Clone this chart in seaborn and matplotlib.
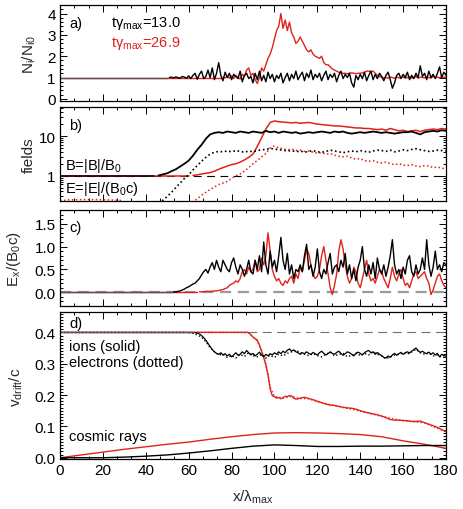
import numpy as np
import matplotlib
matplotlib.use("Agg")
import matplotlib.pyplot as plt
import seaborn as sns
from matplotlib.ticker import MultipleLocator, FixedLocator, FormatStrFormatter, LogLocator, NullFormatter

# ---------------- data ----------------
# panel a: N_i/N_i0
a_black_flat_x = [0, 50]
a_black_flat = [1.0, 1.0]
a_black = [1.0, 1.02, 0.98, 1.03, 1.0, 0.97, 1.05, 1.02, 0.96,
           1.08, 0.95, 1.1, 1.2, 0.92, 1.15, 1.3, 0.95, 1.05, 1.35,
           1.0, 1.45, 0.9, 1.2, 1.7, 1.1, 0.85, 1.25, 1.0, 1.2,
           0.9, 1.15, 1.05, 0.95, 1.3, 0.8, 1.1, 1.2, 0.95, 1.05,
           0.75, 1.2, 0.9, 1.3, 0.85, 1.1, 0.8, 1.25, 0.95, 1.15,
           0.8, 1.1, 0.95, 1.2, 0.75, 1.0, 1.2, 0.85, 1.15, 0.95,
           1.3, 0.9, 1.1, 1.25, 0.85, 1.2, 1.0, 1.35, 0.9, 1.15,
           1.0, 1.2, 0.85, 1.1, 1.3, 0.9, 1.15, 1.0, 1.2, 0.8,
           1.1, 1.3, 0.95, 1.15, 1.0, 1.2, 0.75, 0.55, 1.1, 0.9,
           1.15, 0.95, 1.25, 0.85, 1.1, 1.3, 0.9, 1.15, 0.95, 1.2,
           1.05, 0.85, 1.1, 1.25, 0.9, 0.5, 0.75, 1.1, 1.2, 0.95,
           1.15, 1.0, 1.25, 0.9, 1.1, 0.95, 1.2, 1.0, 1.55, 1.05,
           1.2, 0.9, 1.3, 1.0, 1.15, 0.95, 1.2, 1.5, 1.0, 1.25,
           1.1]
a_black_x0 = 51
a_red_flat_x = [0, 75]
a_red_flat = [1.0, 1.0]
a_red = [1.02, 0.98, 1.05, 0.97, 1.08, 0.95, 1.1, 1.0, 0.93, 1.15, 1.05, 1.35, 1.45, 1.1,
         1.2, 0.9, 0.72, 1.0, 1.45, 1.3, 1.6, 1.9, 2.1, 2.4,
         2.8, 3.2, 3.4, 4.0, 3.3, 3.7, 3.2, 3.6, 3.1, 2.9,
         2.6, 2.7, 2.9, 2.7, 2.5, 2.3, 2.2, 2.3, 2.1, 2.0,
         1.95, 1.9, 2.0, 1.7, 1.6, 1.6, 1.5, 1.4, 1.35, 1.3,
         1.25, 1.22, 1.2, 1.2, 1.18, 1.2, 1.22, 1.2, 1.18, 1.2,
         1.2, 1.22, 1.25, 1.3, 1.3, 1.28, 1.3, 1.2, 1.1, 1.05,
         1.02, 0.98, 1.0, 0.97, 1.02, 1.0, 0.96, 1.03, 0.98, 1.0,
         1.02, 0.97, 1.0, 1.03, 0.98, 1.0, 1.05, 0.97, 1.02, 1.0,
         0.98, 1.03, 1.0, 0.97, 1.05, 1.0, 1.02, 0.98, 1.05, 1.0, 1.03]
a_red_x0 = 76

# panel b: fields (step 2 in x)
b_B_black_flat_x = [0, 44]
b_B_black_flat = [1.0, 1.0]
b_B_black = [1.02, 1.08, 1.15, 1.3, 1.45, 1.7, 2.0, 2.4, 3.2, 4.5, 6.0, 8.5, 11, 12, 12.5, 12, 13,
             12.5, 12, 13, 12.5, 12, 13, 12.5, 12, 13.5, 12.5, 13, 12, 13, 12.5, 12, 12.5,
             11.5, 12, 12.5, 12, 12.5, 13, 12.5, 12, 13, 12.5, 13, 12, 11.5, 12, 12.5, 12,
             12.5, 13, 12.5, 12, 12.5, 12, 11.5, 12, 12.5, 12.5, 13, 12, 11, 12.5, 13, 13.5,
             13, 14, 13.5]
b_B_black_x0 = 46
b_B_red_flat_x = [0, 60]
b_B_red_flat = [1.0, 1.0]
b_B_red = [1.02, 1.05, 1.1, 1.15, 1.2, 1.3, 1.45, 1.6, 1.75, 1.9, 2.0, 2.2, 2.5, 2.9, 3.5, 5.5,
           9, 15, 22, 24, 23, 22.5, 22, 21.5, 22, 21, 21.5, 22, 21, 20, 19.5, 19, 18.5, 18,
           18, 17.5, 17, 16.5, 16, 16, 15.5, 15.5, 15, 14.5, 15, 14, 15.5, 14.5, 13.5, 14,
           13, 13.5, 14, 13, 14, 14.5, 15, 14.5, 15.5, 15]
b_B_red_x0 = 62
b_E_black = [0.2, 0.24, 0.3, 0.38, 0.5, 0.65, 0.85, 1.05, 1.4, 1.8, 2.3, 2.9, 3.5, 3.9, 4.1,
             4.0, 4.2, 4.0, 4.3, 4.1, 3.9, 4.2, 4.0, 4.3, 4.5, 4.6, 4.9, 4.7, 4.5, 4.4, 4.2,
             4.3, 4.0, 4.2, 3.9, 4.1, 4.3, 4.0, 3.9, 4.1, 4.4, 4.2, 4.0, 3.8, 4.0, 4.2, 4.0,
             4.3, 4.1, 3.9, 4.2, 4.4, 4.3, 4.1, 4.4, 4.0, 4.2, 4.5, 4.3, 4.6, 4.8, 4.5, 4.3,
             4.1, 4.2, 4.4, 4.3, 4.2]
b_E_black_x0 = 46
b_E_red_left_x = [0, 4, 10, 16, 22, 28, 30, 34, 58]
b_E_red_left = [0.235, 0.245, 0.25, 0.25, 0.245, 0.24, 0.2, 0.15, 0.15]
b_E_red = [0.19, 0.22, 0.26, 0.32, 0.38, 0.45, 0.52, 0.6, 0.65, 0.72, 0.85, 1.0, 1.1, 1.3, 1.6,
           2.0, 2.4, 3.0, 3.6, 5.0, 5.6, 5.0, 4.8, 4.5, 4.7, 4.3, 4.4, 4.1, 4.2, 3.9, 3.7,
           3.8, 3.5, 3.6, 3.3, 3.1, 3.0, 3.1, 2.8, 2.6, 2.7, 2.4, 2.3, 2.4, 2.2, 2.1, 2.2,
           2.0, 1.9, 2.0, 1.85, 1.8, 1.9, 1.75, 1.7, 1.8, 1.75, 1.6, 1.65, 1.55, 1.5]
b_E_red_x0 = 60

# panel c: E_x/(B0 c)
c_black_flat_x = [0, 52]
c_black_flat = [0.0, 0.0]
c_black = [0.01, 0.01, 0.02, 0.03, 0.05, 0.07, 0.1,
           0.12, 0.15, 0.18, 0.2, 0.25, 0.3, 0.38, 0.45, 0.5, 0.42,
           0.55, 0.65, 0.5, 0.7, 0.55, 0.45, 0.7, 0.6, 0.5, 0.45,
           0.65, 0.75, 0.55, 0.4, 0.6, 0.5, 0.35, 0.5, 0.7, 0.45,
           0.4, 0.7, 0.5, 0.8, 0.45, 1.1, 0.6, 0.4, 0.9, 0.55,
           0.7, 0.45, 0.8, 1.2, 0.7, 0.5, 0.85, 0.4, 0.6, 0.3,
           0.5, 0.45, 0.6, 0.45, 0.8, 1.05, 0.5, 0.6, 0.35, 0.55,
           0.95, 0.45, 0.3, 0.5, 0.4, 0.65, 0.85, 0.4, 0.55, 0.6,
           0.45, 0.7, 0.55, 0.85, 0.4, 0.6, 0.3, 0.5, 0.25, 0.55,
           0.7, 1.0, 0.5, 0.35, 0.6, 0.4, 0.65, 0.3, 0.75, 0.5,
           0.4, 0.6, 0.35, 0.55, 0.8, 1.15, 0.6, 0.4, 0.5, 0.3,
           0.55, 0.4, 0.7, 0.8, 0.45, 0.35, 0.6, 0.4, 0.5, 0.75,
           0.5, 1.15, 0.6, 0.35, 0.55, 0.9, 0.5, 0.6, 0.45, 0.65,
           0.6]
c_black_x0 = 53
c_red_flat_x = [0, 64]
c_red_flat = [0.0, 0.0]
c_red = [0.01, 0.01, 0.01, 0.02, 0.02,
         0.02, 0.02, 0.03, 0.03, 0.04, 0.05, 0.06, 0.08, 0.1, 0.15,
         0.18, 0.2, 0.25, 0.22, 0.3, 0.45, 0.5, 0.4, 0.55, 0.45,
         0.5, 0.7, 0.45, 0.5, 0.75, 0.6, 0.8, 1.3, 0.9, 0.5,
         0.35, 0.25, 0.3, 0.2, 0.15, 0.25, 0.2, 0.3, 0.35, 0.2,
         0.4, 0.3, 0.55, 0.45, 0.7, 0.95, 0.85, 0.6, 0.4, 0.3,
         0.35, 0.5, 0.8, 1.0, 0.7, 0.4, 0.1, -0.05, 0.15, 0.4,
         0.9, 1.15, 0.95, 0.6, 0.35, 0.2, 0.3, 0.55, 0.45, 0.2,
         0.1, 0.3, 0.5, 0.7, 0.4, 0.25, 0.3, 0.2, 0.35, 0.5,
         0.45, 0.3, 0.2, 0.1, 0.3, 0.55, 0.35, 0.25, 0.4, 0.5,
         0.3, 0.15, 0.2, 0.1, 0.25, 0.4, 0.45, 0.3, 0.35, 0.4,
         0.45, 0.3, 0.2, -0.05, 0.05, 0.2, 0.35, 0.4, 0.25, 0.15,
         0.1]
c_red_x0 = 65

# panel d: drift velocities
d_ion_black_flat_x = [0, 62]
d_ion_black_flat = [0.4, 0.4]
d_ion_black = [0.399, 0.398, 0.395, 0.39, 0.383, 0.375, 0.365,
               0.355, 0.345, 0.338, 0.333, 0.33, 0.335, 0.328, 0.332, 0.325, 0.33,
               0.322, 0.328, 0.335, 0.327, 0.33, 0.338, 0.332, 0.342, 0.335, 0.328,
               0.333, 0.325, 0.33, 0.337, 0.328, 0.322, 0.33, 0.325, 0.332, 0.328,
               0.335, 0.33, 0.338, 0.332, 0.34, 0.335, 0.343, 0.347, 0.34, 0.344,
               0.338, 0.335, 0.33, 0.335, 0.332, 0.338, 0.333, 0.33, 0.336, 0.332,
               0.328, 0.335, 0.34, 0.333, 0.328, 0.332, 0.338, 0.333, 0.33, 0.336,
               0.34, 0.333, 0.327, 0.332, 0.338, 0.335, 0.33, 0.325, 0.332, 0.337,
               0.333, 0.328, 0.335, 0.34, 0.342, 0.335, 0.338, 0.33, 0.336, 0.33,
               0.326, 0.32, 0.318, 0.325, 0.32, 0.328, 0.333, 0.327, 0.332, 0.336,
               0.33, 0.335, 0.338, 0.334, 0.34, 0.345, 0.35, 0.342, 0.336, 0.34,
               0.335, 0.332, 0.337, 0.33, 0.335, 0.328, 0.333, 0.322, 0.33, 0.326,
               0.324]
d_ion_black_x0 = 63
d_ele_black_flat_x = [0, 58]
d_ele_black_flat = [0.4, 0.4]
d_ele_black = [0.399, 0.397, 0.392, 0.385, 0.37, 0.352, 0.338, 0.328, 0.33, 0.32,
               0.326, 0.318, 0.33, 0.323, 0.335, 0.326, 0.322, 0.33, 0.318, 0.327,
               0.32, 0.33, 0.325, 0.333, 0.338, 0.343, 0.336, 0.33, 0.326, 0.332,
               0.326, 0.322, 0.33, 0.337, 0.325, 0.33, 0.333, 0.322, 0.327, 0.334,
               0.326, 0.333, 0.328, 0.338, 0.33, 0.325, 0.316, 0.322, 0.328, 0.33,
               0.334, 0.331, 0.338, 0.346, 0.335, 0.33, 0.334, 0.325, 0.328, 0.32,
               0.322]
d_ele_black_x0 = 60
d_ion_red_x = [0, 86, 87, 88, 89, 90, 91, 92, 93, 94, 95, 96, 97, 98, 99, 100, 101, 102,
               103, 104, 105, 106, 107, 108, 109, 110, 111, 112, 113, 114, 115, 116, 117,
               118, 119, 120, 122, 124, 126, 128, 130, 132, 134, 136, 138, 140, 142, 144,
               146, 148, 150, 152, 154, 156, 158, 160, 162, 164, 166, 168, 170, 172, 174,
               176, 178, 180]
d_ion_red = [0.4, 0.4, 0.401, 0.399, 0.392, 0.385, 0.38, 0.375, 0.36, 0.34, 0.32, 0.295,
             0.265, 0.22, 0.198, 0.195, 0.19, 0.192, 0.188, 0.192, 0.196, 0.195, 0.198,
             0.197, 0.19, 0.187, 0.188, 0.19, 0.192, 0.193, 0.191, 0.189, 0.187, 0.185,
             0.183, 0.18, 0.176, 0.171, 0.168, 0.167, 0.164, 0.161, 0.159, 0.158, 0.155,
             0.15, 0.146, 0.143, 0.14, 0.137, 0.133, 0.128, 0.122, 0.12, 0.12, 0.119,
             0.118, 0.116, 0.116, 0.117, 0.112, 0.107, 0.102, 0.097, 0.09, 0.083]
d_ele_red_x = [0, 84, 88, 90, 92, 94, 96, 98, 100, 104, 108, 112, 116, 120, 130, 140, 150,
               160, 170, 180]
d_ele_red = [0.4, 0.4, 0.398, 0.386, 0.372, 0.342, 0.3, 0.225, 0.196, 0.19, 0.196, 0.189,
             0.188, 0.179, 0.163, 0.149, 0.132, 0.118, 0.111, 0.082]
d_cr_x = [0, 10, 20, 30, 40, 50, 60, 70, 80, 90, 100, 110, 120, 130, 140, 150, 160, 170, 180]
d_cr_red = [0.0, 0.009, 0.018, 0.027, 0.035, 0.043, 0.05, 0.059, 0.067, 0.074, 0.079, 0.08,
            0.079, 0.077, 0.074, 0.067, 0.054, 0.043, 0.03]
d_cr_black = [0.0, 0.0, 0.0, 0.002, 0.005, 0.009, 0.015, 0.022, 0.03, 0.037, 0.041, 0.039,
              0.036, 0.036, 0.037, 0.037, 0.038, 0.039, 0.039]

x_ticks = [0, 20, 40, 60, 80, 100, 120, 140, 160, 180]

# ---------------- style ----------------
sns.set_theme(style="ticks")
plt.rcParams['font.family'] = ['Liberation Sans', 'DejaVu Sans']
plt.rcParams['mathtext.default'] = 'regular'
plt.rcParams['axes.linewidth'] = 0.9
plt.rcParams['axes.edgecolor'] = 'black'

RED = '#e0221c'
BLK = 'black'
W, H = 463, 510
fig = plt.figure(figsize=(W / 100, H / 100), dpi=100)


def add_ax(top, bottom):
    l, r = 60, 446
    return fig.add_axes([l / W, 1 - bottom / H, (r - l) / W, (bottom - top) / H])


def style(ax, ylim, minor=None):
    ax.set_xlim(0, 180)
    ax.set_ylim(*ylim)
    ax.xaxis.set_major_locator(FixedLocator(x_ticks))
    ax.xaxis.set_minor_locator(MultipleLocator(20 / 3))
    if minor is not None:
        ax.yaxis.set_minor_locator(MultipleLocator(minor))
    ax.tick_params(which='both', direction='in', top=True, right=True, colors='black',
                   labelsize=11, width=0.7, pad=3)
    ax.tick_params(which='major', length=5)
    ax.tick_params(which='minor', length=2.5)
    ax.set_xlabel('')
    ax.set_ylabel('')
    for s in ax.spines.values():
        s.set_color('black')


def line(ax, x, y, color, lw=1.0, ls='-'):
    sns.lineplot(x=np.asarray(x, float), y=np.asarray(y, float), ax=ax, color=color,
                 linewidth=lw, linestyle=ls, estimator=None, sort=False)


def seg(x0, vals, step=1):
    return np.arange(len(vals)) * step + x0


def ftext(x, y, s, color='black', size=10.5, **kw):
    fig.text(x / W, 1 - y / H, s, color=color, fontsize=size, va='center', ha='left', **kw)


dot = (0, (1, 1.6))

# ---- panel a ----
ax1 = add_ax(6, 102)
line(ax1, a_red_flat_x, a_red_flat, RED)
line(ax1, seg(a_red_x0, a_red), a_red, RED)
line(ax1, a_black_flat_x, a_black_flat, '#555555')
line(ax1, seg(a_black_x0, a_black), a_black, BLK)
style(ax1, (-0.1, 4.4), minor=0.2)
ax1.yaxis.set_major_locator(FixedLocator([0, 1, 2, 3, 4]))
ax1.set_xticklabels([])

# ---- panel b ----
ax2 = add_ax(108, 202)
ax2.set_yscale('log')
ax2.axhline(1.0, color='black', lw=0.8, dashes=(7, 5))
line(ax2, b_B_red_flat_x, b_B_red_flat, RED, lw=1.1)
line(ax2, seg(b_B_red_x0, b_B_red, 2), b_B_red, RED, lw=1.1)
line(ax2, b_E_red_left_x, b_E_red_left, RED, lw=1.1, ls=dot)
line(ax2, seg(b_E_red_x0, b_E_red, 2), b_E_red, RED, lw=1.1, ls=dot)
line(ax2, b_B_black_flat_x, b_B_black_flat, BLK, lw=1.1)
line(ax2, seg(b_B_black_x0, b_B_black, 2), b_B_black, BLK, lw=1.3)
line(ax2, seg(b_E_black_x0, b_E_black, 2), b_E_black, BLK, lw=1.2, ls=dot)
style(ax2, (0.23, 54))
ax2.yaxis.set_major_locator(FixedLocator([1, 10]))
ax2.yaxis.set_major_formatter(FormatStrFormatter('%g'))
ax2.yaxis.set_minor_locator(LogLocator(base=10, subs=np.arange(2, 10)))
ax2.yaxis.set_minor_formatter(NullFormatter())
ax2.set_xticklabels([])

# ---- panel c ----
ax3 = add_ax(211, 307)
ax3.axhline(0.0, color='#9a9a9a', lw=1.6, dashes=(5, 3))
line(ax3, c_red_flat_x, c_red_flat, RED)
line(ax3, seg(c_red_x0, c_red), c_red, RED)
line(ax3, c_black_flat_x, c_black_flat, '#555555')
line(ax3, seg(c_black_x0, c_black), c_black, BLK)
style(ax3, (-0.3, 1.8), minor=0.1)
ax3.yaxis.set_major_locator(FixedLocator([0.0, 0.5, 1.0, 1.5]))
ax3.yaxis.set_major_formatter(FormatStrFormatter('%.1f'))
ax3.set_xticklabels([])

# ---- panel d ----
ax4 = add_ax(313, 460)
ax4.axhline(0.4, color='#707070', lw=0.8, dashes=(8, 5))
line(ax4, d_ele_red_x, d_ele_red, RED, lw=1.0, ls=dot)
line(ax4, d_ion_red_x, d_ion_red, RED, lw=1.0)
line(ax4, d_ele_black_flat_x, d_ele_black_flat, BLK, lw=1.0, ls=dot)
line(ax4, seg(d_ele_black_x0, d_ele_black, 2), d_ele_black, BLK, lw=1.0, ls=dot)
line(ax4, d_ion_black_flat_x, d_ion_black_flat, '#555555', lw=1.0)
line(ax4, seg(d_ion_black_x0, d_ion_black), d_ion_black, BLK, lw=0.9)
line(ax4, d_cr_x, d_cr_red, RED, lw=1.0)
line(ax4, d_cr_x, d_cr_black, BLK, lw=1.0)
style(ax4, (-0.004, 0.465), minor=0.01)
ax4.yaxis.set_major_locator(FixedLocator([0.0, 0.1, 0.2, 0.3, 0.4]))
ax4.yaxis.set_major_formatter(FormatStrFormatter('%.1f'))
ax4.set_xticklabels([str(v) for v in x_ticks])

# ---- texts ----
ftext(69, 24, 'a)')
ftext(111, 24, 'tγ$_{max}$=13.0')
ftext(111, 43, 'tγ$_{max}$=26.9', color=RED)
ftext(69, 126, 'b)')
ftext(65, 166, 'B=|B|/B$_0$')
ftext(65, 189, 'E=|E|/(B$_0$c)')
ftext(69, 228, 'c)')
ftext(69, 324, 'd)')
ftext(69, 347, 'ions (solid)')
ftext(69, 363, 'electrons (dotted)')
ftext(69, 437, 'cosmic rays')

def ylab(x, y, s):
    fig.text(x / W, 1 - y / H, s, fontsize=11, rotation=90, ha='center', va='center')

ylab(29, 54, 'N$_i$/N$_{i0}$')
ylab(29, 155, 'fields')
ylab(14, 259, 'E$_x$/(B$_0$c)')
ylab(16, 387, 'v$_{drift}$/c')
fig.text(253 / W, 1 - 497 / H, 'x/λ$_{max}$', fontsize=11, ha='center', va='center')

fig.savefig('out.png', dpi=100)
